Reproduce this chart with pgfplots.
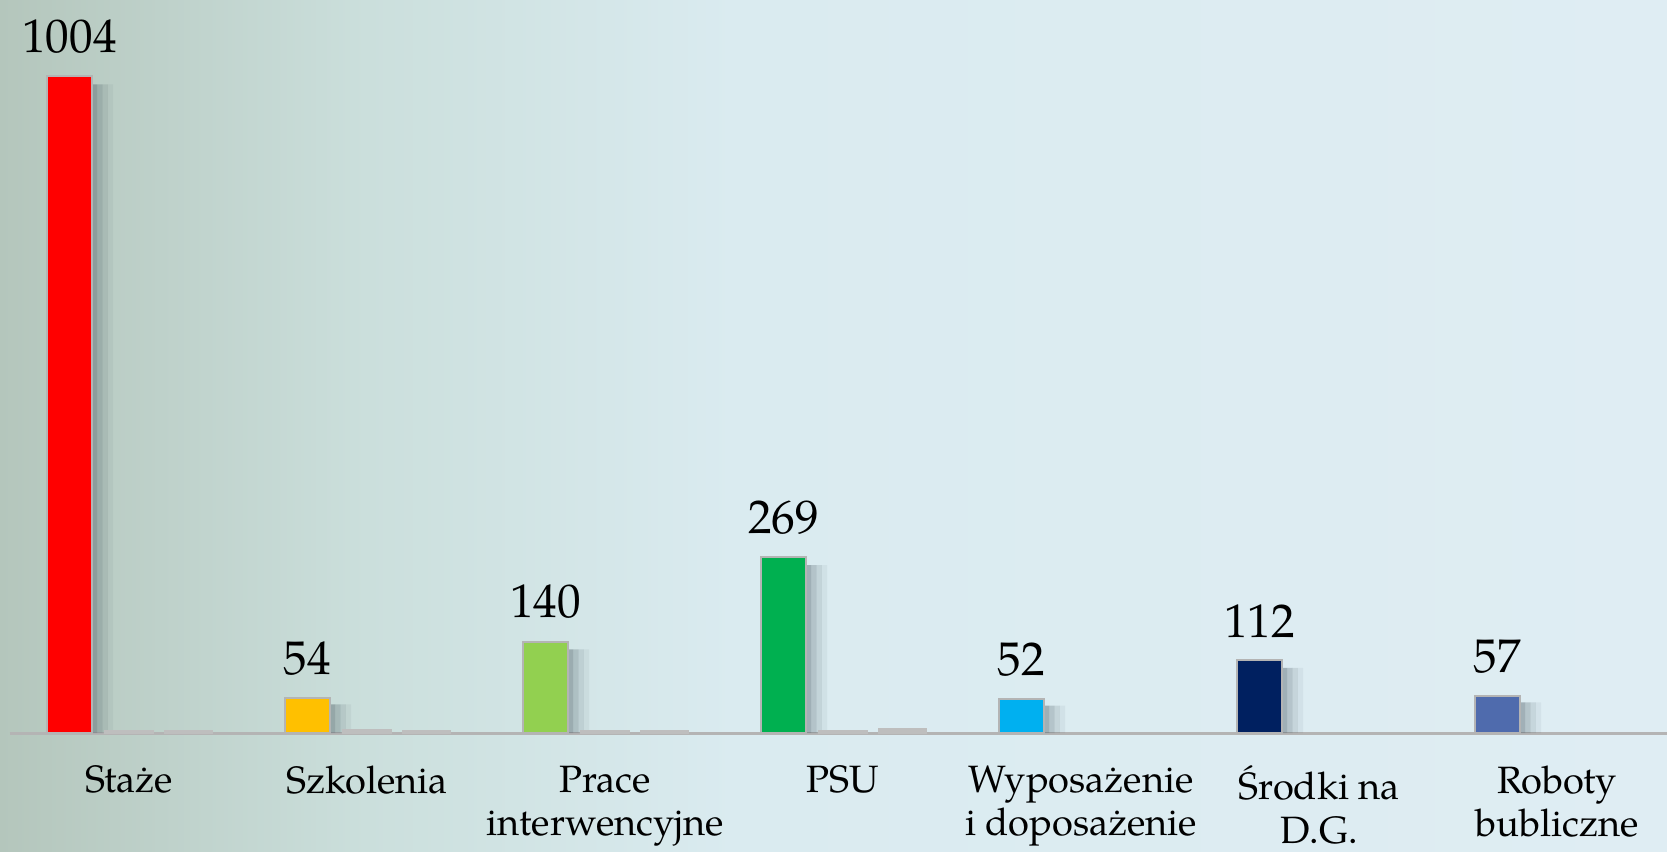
\documentclass[border=0pt]{standalone}
\usepackage{pgfplots}
\pgfplotsset{compat=1.18}
\usepackage{pgfplotstable}
\usepackage{fontspec}
\setmainfont{texgyrepagella-regular.otf}

\definecolor{cRed}{HTML}{FF0000}
\definecolor{cYellow}{HTML}{FFC000}
\definecolor{cLime}{HTML}{92D050}
\definecolor{cGreen}{HTML}{00B050}
\definecolor{cCyan}{HTML}{00B0F0}
\definecolor{cNavy}{HTML}{002060}
\definecolor{cSteel}{HTML}{4F6BAD}
\definecolor{bord}{HTML}{B4B4B4}
\definecolor{grayb}{HTML}{BEBEBE}
\definecolor{shadowc}{HTML}{4E5E66}
\definecolor{bgA}{HTML}{B4C6BC}
\definecolor{bgB}{HTML}{CBDFDC}
\definecolor{bgC}{HTML}{DAEBF0}
\definecolor{bgD}{HTML}{DFEDF3}

\pgfdeclarehorizontalshading{bgshade}{100bp}{color(0bp)=(bgA); color(25bp)=(bgA); color(36bp)=(bgB); color(47bp)=(bgC); color(75bp)=(bgD); color(100bp)=(bgD)}

% shadow heights behind each coloured bar
\pgfplotstableread{
x s
0 992
1 44
2 128
3 257
4 42
5 100
6 47
}\shadowdata

\begin{document}
\begin{tikzpicture}
\shade[shading=bgshade] (0,0) rectangle (600pt,306.36pt);
\begin{axis}[
  at={(0,0)}, anchor=south west,
  scale only axis, width=600pt, height=306.36pt,
  xmin=-0.542, xmax=6.462, ymin=-180.4, ymax=1120.8,
  hide y axis,
  axis x line=middle,
  x axis line style={draw=none},
  xtick={0,...,6},
  xticklabels={Staże, Szkolenia, {Prace\\interwencyjne}, PSU, {Wyposażenie\\i doposażenie}, {Środki na\\D.G.}, {Roboty\\bubliczne}},
  xtick style={draw=none},
  xticklabel style={align=center, font=\fontsize{13.7}{15.6}\selectfont, anchor=north, yshift=-4pt, text=black},
  ybar, bar width=0.19,
  clip=false,
  /pgf/number format/1000 sep={},
  /pgf/number format/assume math mode=true,
  nodes near coords style={font=\fontsize{17}{20}\selectfont, text=black, yshift=4.5pt},
]
\draw[color=bord, line width=1pt] (axis cs:-0.5,0) -- (axis cs:6.462,0);
% soft shadows (strips of decreasing opacity)
\addplot[bar width=0.022, bar shift=-0.144, fill=shadowc, draw=none, fill opacity=0.42] table[x=x,y=s] {\shadowdata};
\addplot[bar width=0.022, bar shift=-0.122, fill=shadowc, draw=none, fill opacity=0.28] table[x=x,y=s] {\shadowdata};
\addplot[bar width=0.022, bar shift=-0.100, fill=shadowc, draw=none, fill opacity=0.16] table[x=x,y=s] {\shadowdata};
\addplot[bar width=0.022, bar shift=-0.078, fill=shadowc, draw=none, fill opacity=0.07] table[x=x,y=s] {\shadowdata};
% small gray bars
\addplot[bar width=0.205, bar shift=0, fill=grayb, draw=grayb] coordinates {(0,4) (1,6) (2,4) (3,4)};
\addplot[bar width=0.205, bar shift=0.25, fill=grayb, draw=grayb] coordinates {(0,4) (1,4) (2,4) (3,7)};
% main bars
\addplot[bar shift=-0.25, fill=cRed, draw=bord, line width=0.7pt, nodes near coords] coordinates {(0,1004)};
\addplot[bar shift=-0.25, fill=cYellow, draw=bord, line width=0.7pt, nodes near coords] coordinates {(1,54)};
\addplot[bar shift=-0.25, fill=cLime, draw=bord, line width=0.7pt, nodes near coords] coordinates {(2,140)};
\addplot[bar shift=-0.25, fill=cGreen, draw=bord, line width=0.7pt, nodes near coords] coordinates {(3,269)};
\addplot[bar shift=-0.25, fill=cCyan, draw=bord, line width=0.7pt, nodes near coords] coordinates {(4,52)};
\addplot[bar shift=-0.25, fill=cNavy, draw=bord, line width=0.7pt, nodes near coords] coordinates {(5,112)};
\addplot[bar shift=-0.25, fill=cSteel, draw=bord, line width=0.7pt, nodes near coords] coordinates {(6,57)};
\end{axis}
\pgfresetboundingbox
\path[use as bounding box] (0,0) rectangle (600pt,306.36pt);
\end{tikzpicture}
\end{document}
